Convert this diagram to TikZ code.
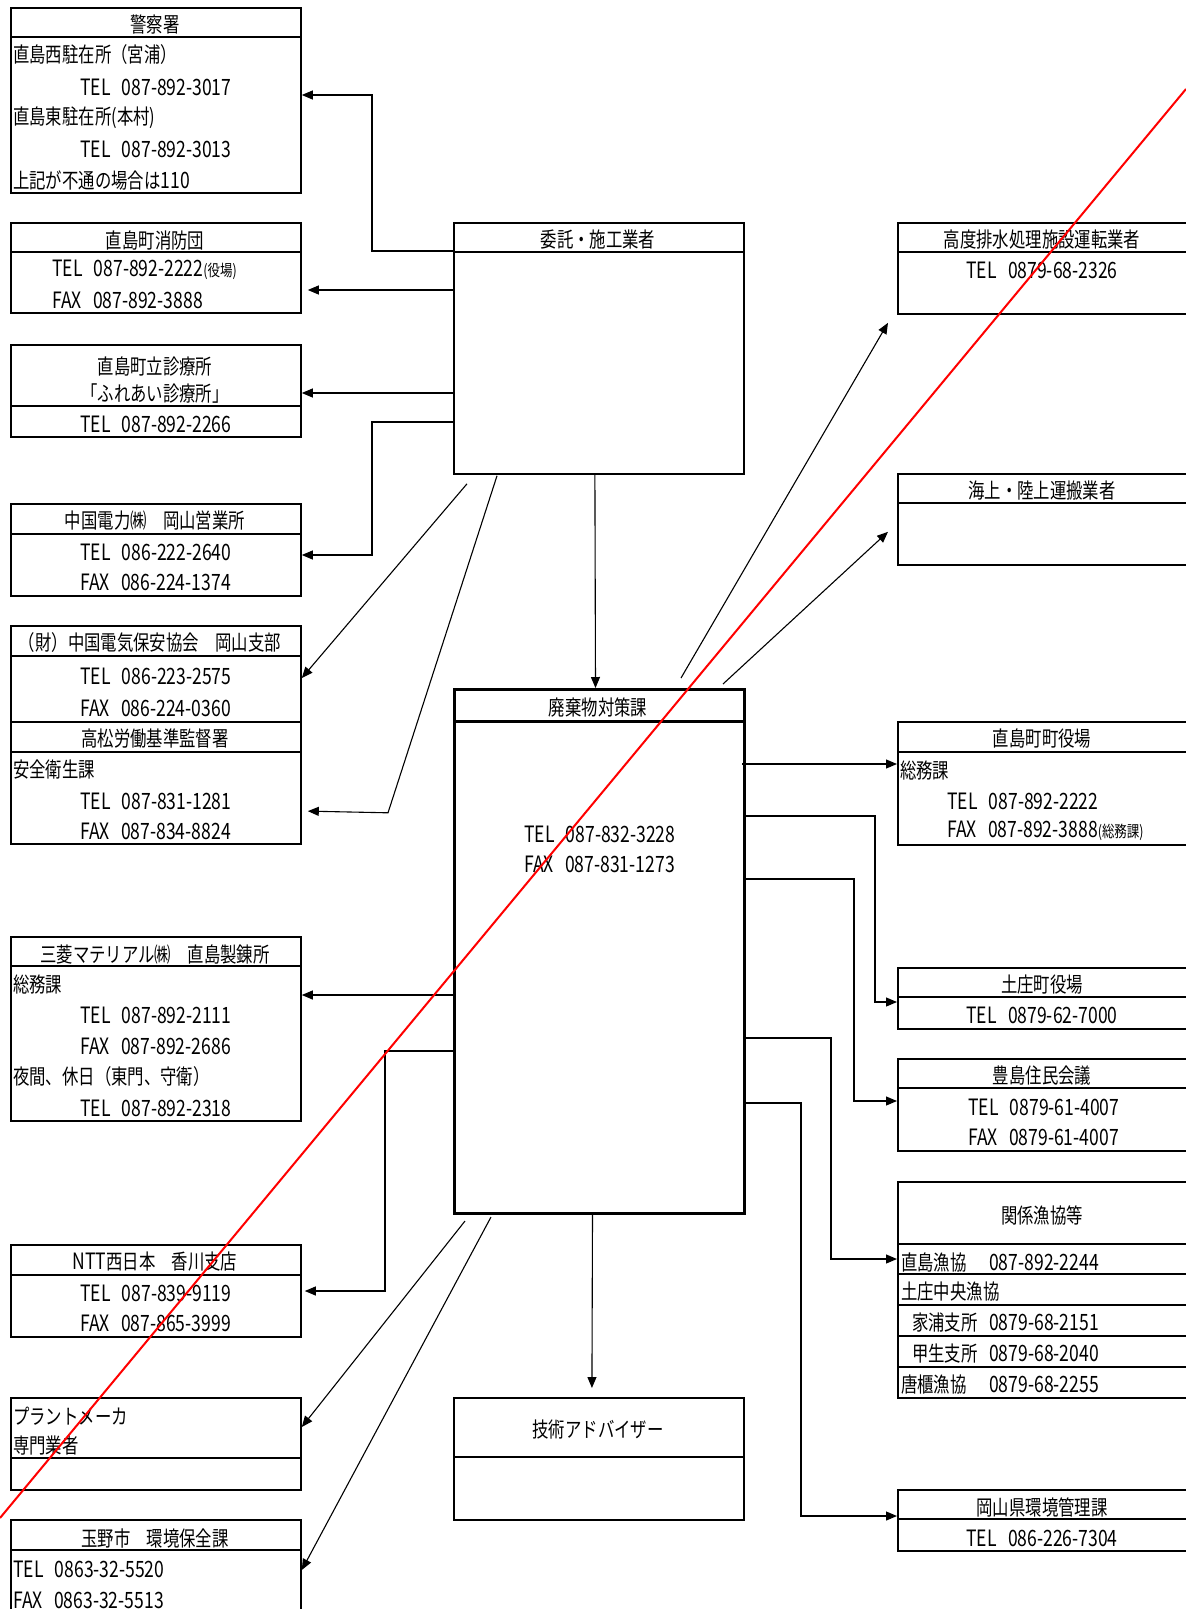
\documentclass[tikz,border=0pt]{standalone}
\usepackage{fontspec}
\setmainfont{Noto Sans CJK JP}[FakeStretch=0.78]
\usetikzlibrary{arrows.meta,calc}
\definecolor{ink}{HTML}{000000}
\definecolor{strike}{HTML}{FF0000}
\tikzset{
  box/.style={draw=ink,line width=1.8pt,anchor=north west,minimum width=290pt,inner sep=0pt},
  mainbox/.style={box,line width=3pt},
  rule/.style={draw=ink,line width=1.8pt},
  txt/.style={inner sep=0pt,yshift=-3pt,font=\fontsize{21}{24}\selectfont,text=ink},
  ltxt/.style={txt,anchor=west},
  tel/.style={ltxt,font=\fontsize{22.5}{26}\selectfont},
  ctel/.style={txt,font=\fontsize{22.5}{26}\selectfont},
  conn/.style={-{Triangle[length=11pt,width=9pt]},line width=1.1pt,color=ink},
  cut/.style={line width=2pt,color=strike},
}
\newcommand{\smalltag}[1]{{\fontsize{16}{18}\selectfont #1}}
\newcommand{\latn}[1]{{\fontsize{22.5}{26}\selectfont #1}}

\begin{document}
\begin{tikzpicture}[x=1pt,y=-1pt]
  \useasboundingbox (0,0) rectangle (1186,1609);
  % left column
  \node[box,minimum height=185pt] (pol) at (10,7){}; \node[box,minimum height=90pt] (fire) at (10,222){};
  \node[box,minimum height=92pt] (cli) at (10,344){}; \node[box,minimum height=92pt] (chu) at (10,503){};
  \node[box,minimum height=96pt] (hoan) at (10,625){}; \node[box,minimum height=122pt] (rodo) at (10,721){};
  \node[box,minimum height=184pt] (mit) at (10,936){}; \node[box,minimum height=92pt] (ntt) at (10,1244){};
  \node[box,minimum height=92pt] (plant) at (10,1397){}; \node[box,minimum height=121pt] (tam) at (10,1519){};
  \draw[rule] (pol.west |- 0,37) -- (pol.east |- 0,37); \draw[rule] (fire.west |- 0,252) -- (fire.east |- 0,252);
  \draw[rule] (cli.west |- 0,406) -- (cli.east |- 0,406); \draw[rule] (chu.west |- 0,534) -- (chu.east |- 0,534);
  \draw[rule] (hoan.west |- 0,656) -- (hoan.east |- 0,656); \draw[rule] (rodo.west |- 0,752) -- (rodo.east |- 0,752);
  \draw[rule] (mit.west |- 0,966) -- (mit.east |- 0,966); \draw[rule] (ntt.west |- 0,1275) -- (ntt.east |- 0,1275);
  \draw[rule] (plant.west |- 0,1458) -- (plant.east |- 0,1458); \draw[rule] (tam.west |- 0,1550) -- (tam.east |- 0,1550);
  \node[txt] (pol-t) at (155,22){警察署};
  \node[ltxt] (pol-1) at (13,52){直島西駐在所（宮浦）}; \node[tel] (pol-2) at (80,84){TEL\enspace 087-892-3017};
  \node[ltxt] (pol-3) at (13,115){直島東駐在所(本村)}; \node[tel] (pol-4) at (80,146){TEL\enspace 087-892-3013};
  \node[ltxt] (pol-5) at (13,177){上記が不通の場合は\latn{110}};
  \node[txt] (fire-t) at (155,237){直島町消防団};
  \node[tel] (fire-1) at (52,267){TEL\enspace 087-892-2222\smalltag{(役場)}}; \node[tel] (fire-2) at (52,297){FAX\enspace 087-892-3888};
  \node[txt] (cli-t) at (155,363){直島町立診療所}; \node[txt] (cli-s) at (155,391){「ふれあい診療所」};
  \node[tel] (cli-1) at (80,421){TEL\enspace 087-892-2266};
  \node[txt] (chu-t) at (155,518){中国電力㈱　岡山営業所};
  \node[tel] (chu-1) at (80,549){TEL\enspace 086-222-2640}; \node[tel] (chu-2) at (80,579){FAX\enspace 086-224-1374};
  \node[txt] (hoan-t) at (150,640){（財）中国電気保安協会　岡山支部};
  \node[tel] (hoan-1) at (80,673){TEL\enspace 086-223-2575}; \node[tel] (hoan-2) at (80,705){FAX\enspace 086-224-0360};
  \node[txt] (rodo-t) at (155,736){高松労働基準監督署}; \node[ltxt] (rodo-1) at (13,767){安全衛生課};
  \node[tel] (rodo-2) at (80,798){TEL\enspace 087-831-1281}; \node[tel] (rodo-3) at (80,828){FAX\enspace 087-834-8824};
  \node[txt] (mit-t) at (155,951){三菱マテリアル㈱　直島製錬所}; \node[ltxt] (mit-1) at (13,981){総務課};
  \node[tel] (mit-2) at (80,1012){TEL\enspace 087-892-2111}; \node[tel] (mit-3) at (80,1043){FAX\enspace 087-892-2686};
  \node[ltxt] (mit-4) at (13,1074){夜間、休日（東門、守衛）}; \node[tel] (mit-5) at (80,1105){TEL\enspace 087-892-2318};
  \node[txt] (ntt-t) at (155,1259){\latn{NTT}西日本　香川支店};
  \node[tel] (ntt-1) at (80,1290){TEL\enspace 087-839-9119}; \node[tel] (ntt-2) at (80,1320){FAX\enspace 087-865-3999};
  \node[ltxt] (plant-1) at (13,1413){プラントメーカ}; \node[ltxt] (plant-2) at (13,1443){専門業者};
  \node[txt] (tam-t) at (155,1535){玉野市　環境保全課};
  \node[tel] (tam-1) at (13,1566){TEL\enspace 0863-32-5520}; \node[tel] (tam-2) at (13,1597){FAX\enspace 0863-32-5513};
  % centre column
  \node[box,minimum height=251pt] (itk) at (453,222){}; \node[mainbox,minimum height=524pt] (hai) at (453,688){};
  \node[box,minimum height=122pt] (gij) at (453,1397){};
  \draw[rule] (itk.west |- 0,252) -- (itk.east |- 0,252); \draw[rule,line width=3pt] (hai.west |- 0,721) -- (hai.east |- 0,721);
  \draw[rule] (gij.west |- 0,1457) -- (gij.east |- 0,1457);
  \node[txt] (itk-t) at (598,237){委託・施工業者}; \node[txt] (hai-t) at (598,705){廃棄物対策課};
  \node[tel] (hai-1) at (524,831){TEL\enspace 087-832-3228}; \node[tel] (hai-2) at (524,861){FAX\enspace 087-831-1273};
  \node[txt] (gij-t) at (598,1427){技術アドバイザー};
  % right column
  \node[box,minimum height=91pt] (kodo) at (897,222){}; \node[box,minimum height=91pt] (kai) at (897,473){};
  \node[box,minimum height=123pt] (yak) at (897,721){}; \node[box,minimum height=61pt] (ton) at (897,967){};
  \node[box,minimum height=92pt] (tesh) at (897,1058){}; \node[box,minimum height=216pt] (gyo) at (897,1181){};
  \node[box,minimum height=61pt] (oka) at (897,1489){};
  \draw[rule] (kodo.west |- 0,252) -- (kodo.east |- 0,252); \draw[rule] (kai.west |- 0,503) -- (kai.east |- 0,503);
  \draw[rule] (yak.west |- 0,752) -- (yak.east |- 0,752); \draw[rule] (ton.west |- 0,997) -- (ton.east |- 0,997);
  \draw[rule] (tesh.west |- 0,1088) -- (tesh.east |- 0,1088); \draw[rule] (oka.west |- 0,1519) -- (oka.east |- 0,1519);
  \foreach \y in {1244,1274,1305,1336,1367} \draw[rule] (gyo.west |- 0,\y) -- (gyo.east |- 0,\y);
  \node[txt] (kodo-t) at (1042,237){高度排水処理施設運転業者}; \node[ctel] (kodo-1) at (1042,267){TEL\enspace 0879-68-2326};
  \node[txt] (kai-t) at (1042,488){海上・陸上運搬業者};
  \node[txt] (yak-t) at (1042,736){直島町町役場}; \node[ltxt] (yak-1) at (900,767){総務課};
  \node[tel] (yak-2) at (947,798){TEL\enspace 087-892-2222}; \node[tel] (yak-3) at (947,828){FAX\enspace 087-892-3888\smalltag{(総務課)}};
  \node[txt] (ton-t) at (1042,982){土庄町役場}; \node[ctel] (ton-1) at (1042,1012){TEL\enspace 0879-62-7000};
  \node[txt] (tesh-t) at (1042,1073){豊島住民会議};
  \node[tel] (tesh-1) at (968,1104){TEL\enspace 0879-61-4007}; \node[tel] (tesh-2) at (968,1134){FAX\enspace 0879-61-4007};
  \node[txt] (gyo-t) at (1042,1212){関係漁協等};
  \node[ltxt] (gyo-1) at (901,1259){\makebox[88pt][l]{直島漁協}\latn{087-892-2244}}; \node[ltxt] (gyo-2) at (901,1289){土庄中央漁協};
  \node[ltxt] (gyo-3) at (912,1320){\makebox[77pt][l]{家浦支所}\latn{0879-68-2151}};
  \node[ltxt] (gyo-4) at (912,1351){\makebox[77pt][l]{甲生支所}\latn{0879-68-2040}};
  \node[ltxt] (gyo-5) at (901,1382){\makebox[88pt][l]{唐櫃漁協}\latn{0879-68-2255}};
  \node[txt] (oka-t) at (1042,1504){岡山県環境管理課}; \node[ctel] (oka-1) at (1042,1535){TEL\enspace 086-226-7304};
  % connectors
  \draw[conn] (itk.west |- 0,251) -- ++(-81,0) |- (pol.east |- 0,95);
  \draw[conn,shorten >=6pt] (itk.west |- 0,290) -- (fire.east |- 0,290);
  \draw[conn] (itk.west |- 0,393) -- (cli.east |- 0,393);
  \draw[conn] (itk.west |- 0,422) -- ++(-81,0) |- (chu.east |- 0,555);
  \draw[conn] ($(itk.south west)+(14,9)$) -- (hoan.east |- 0,678);
  \draw[conn,shorten >=6pt] ($(itk.south west)+(44,1)$) -- ++(-109,337) -- (rodo.east |- 0,811);
  \draw[conn] ($(itk.south)+(-4,0)$) -- ($(hai.north)+(-4,0)$);
  \draw[conn] ($(hai.north west)+(228,-10)$) -- ($(kodo.south west)+(-9,8)$);
  \draw[conn] ($(hai.north west)+(270,-4)$) -- ($(kai.south west)+(-9,-34)$);
  \draw[conn] ($(hai.east |- 0,764)+(-4,0)$) -- (yak.west |- 0,764);
  \draw[conn] (hai.east |- 0,816) -- ++(129,0) |- (ton.west |- 0,1002);
  \draw[conn] (hai.east |- 0,879) -- ++(108,0) |- (tesh.west |- 0,1101);
  \draw[conn] (hai.east |- 0,1038) -- ++(85,0) |- (gyo.west |- 0,1259);
  \draw[conn] (hai.east |- 0,1103) -- ++(55,0) |- (oka.west |- 0,1516);
  \draw[conn] (hai.west |- 0,995) -- (mit.east |- 0,995);
  \draw[conn,shorten >=3pt] (hai.west |- 0,1051) -- ++(-68,0) |- (ntt.east |- 0,1291);
  \draw[conn] ($(hai.south west)+(12,6)$) -- (plant.east |- 0,1427);
  \draw[conn] ($(hai.south west)+(38,2)$) -- (tam.east |- 0,1570);
  \draw[conn,shorten >=9pt] ($(hai.south)+(-7,0)$) -- ($(gij.north)+(-7,0)$);
  % strike line
  \coordinate (cutA) at (0,1518); \coordinate (cutB) at (1186,89);
  \draw[cut] (cutA) -- (cutB);
\end{tikzpicture}
\end{document}
